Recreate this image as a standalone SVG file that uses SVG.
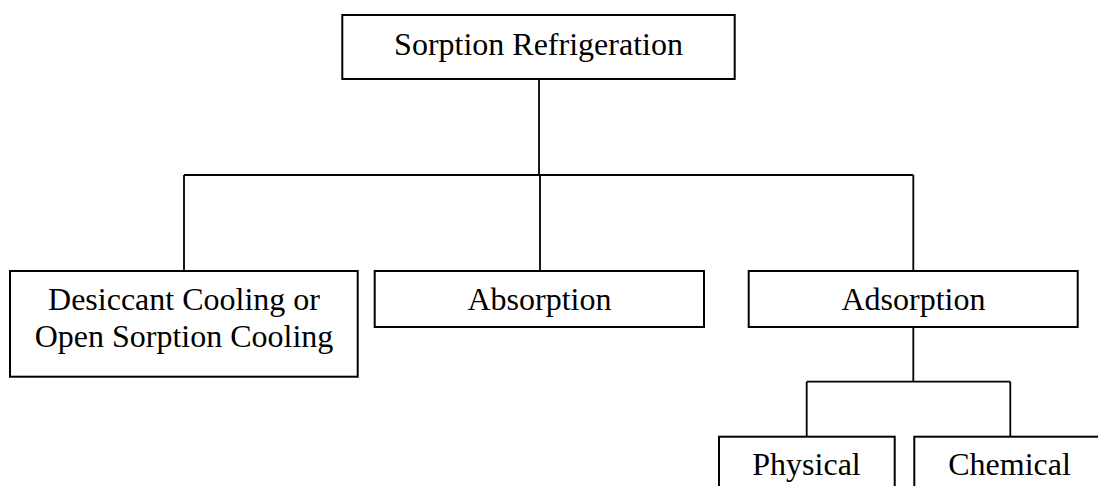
<svg xmlns="http://www.w3.org/2000/svg" width="1098" height="486" viewBox="0 0 1098 486">
<style>
.box{fill:#fff;stroke:#000;stroke-width:2}
.con{fill:none;stroke:#000;stroke-width:1.8}
text{font-family:"Liberation Serif","Times New Roman",serif;font-size:32px;fill:#000;text-anchor:middle}
</style>
<rect width="1098" height="486" fill="#fff"/>
<g id="connectors">
<path class="con" d="M539 79V175M184 175H913.3M184 175V271M540 175V271M913.3 175V271M913.3 327V381.7M806.7 381.7H1010.3M806.7 381.7V436.7M1010.3 381.7V436.7"/>
</g>
<g id="n-root"><rect class="box" x="342.3" y="15" width="392.4" height="64"/><text x="538.5" y="55">Sorption Refrigeration</text></g>
<g id="n-desiccant"><rect class="box" x="10" y="271" width="347.7" height="105.7"/><text x="184" y="309.5">Desiccant Cooling or</text><text x="184" y="346.5">Open Sorption Cooling</text></g>
<g id="n-absorption"><rect class="box" x="374.7" y="271" width="329.3" height="56"/><text x="539.5" y="309.5">Absorption</text></g>
<g id="n-adsorption"><rect class="box" x="748.7" y="271" width="329" height="56"/><text x="913.5" y="309.5">Adsorption</text></g>
<g id="n-physical"><rect class="box" x="719" y="436.7" width="175.7" height="70"/><text x="806.5" y="475">Physical</text></g>
<g id="n-chemical"><rect class="box" x="914.3" y="436.7" width="192" height="70"/><text x="1009.5" y="475">Chemical</text></g>
</svg>
